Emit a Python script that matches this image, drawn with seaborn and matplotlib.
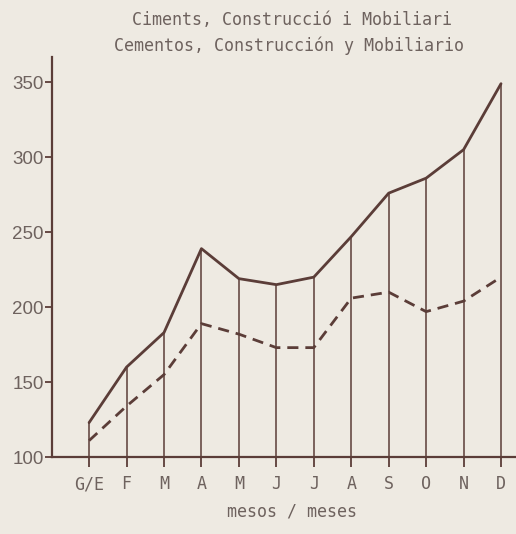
import matplotlib
matplotlib.use('Agg')
import matplotlib.pyplot as plt
import seaborn as sns
import pandas as pd

# dades llegides del gràfic
mesos = ['G/E', 'F', 'M', 'A', 'M', 'J', 'J', 'A', 'S', 'O', 'N', 'D']
serie_solida = [123, 160, 183, 239, 219, 215, 220, 247, 276, 286, 305, 349]
serie_discontinua = [111, 134, 155, 189, 182, 173, 173, 206, 210, 197, 204, 220]
yticks = [100, 150, 200, 250, 300, 350]

ink = '#5b3d38'
txt = '#6e625e'
bg = '#eeeae2'

sns.set_style('white')
plt.rcParams['font.family'] = ['DejaVu Sans Mono', 'DejaVu Sans']

df = pd.DataFrame({'x': range(len(mesos)), 'solid': serie_solida, 'dash': serie_discontinua})

fig = plt.figure(figsize=(5.16, 5.34), dpi=100, facecolor=bg)
ax = fig.add_axes([0.1008, 0.144, 0.8992, 0.749])
ax.set_facecolor(bg)

# linies verticals fins a la serie principal
ax.vlines(df['x'], 100, df['solid'], color=ink, lw=1.1)
sns.lineplot(data=df, x='x', y='solid', ax=ax, color=ink, lw=2.0)
sns.lineplot(data=df, x='x', y='dash', ax=ax, color=ink, lw=2.0, dashes=False)
ax.lines[-1].set_dashes([4, 2.5])

ax.set_xlim(-0.99, 11.4)
ax.set_ylim(100, 366.7)
ax.set_xticks(range(len(mesos)))
ax.set_xticklabels(mesos, fontsize=12, color=txt)
ax.set_yticks(yticks)
ax.set_yticklabels([str(v) for v in yticks], fontsize=13.5, color=txt, family='Liberation Sans')
ax.tick_params(axis='x', bottom=True, direction='out', length=7, width=1.3, color=ink, pad=6)
ax.tick_params(axis='y', left=True, direction='out', length=5, width=1.3, color=ink, pad=1)

for s in ['top', 'right']:
    ax.spines[s].set_visible(False)
for s in ['left', 'bottom']:
    ax.spines[s].set_color(ink)
    ax.spines[s].set_linewidth(1.6)

ax.set_xlabel('')
ax.set_ylabel('')
fig.text(0.565, 0.025, 'mesos / meses', ha='center', va='bottom', fontsize=12, color=txt)
fig.text(0.565, 0.962, 'Ciments, Construcció i Mobiliari', ha='center', va='center', fontsize=12, color=txt)
fig.text(0.56, 0.915, 'Cementos, Construcción y Mobiliario', ha='center', va='center', fontsize=12, color=txt)

fig.savefig('out.png', dpi=100, facecolor=bg)
